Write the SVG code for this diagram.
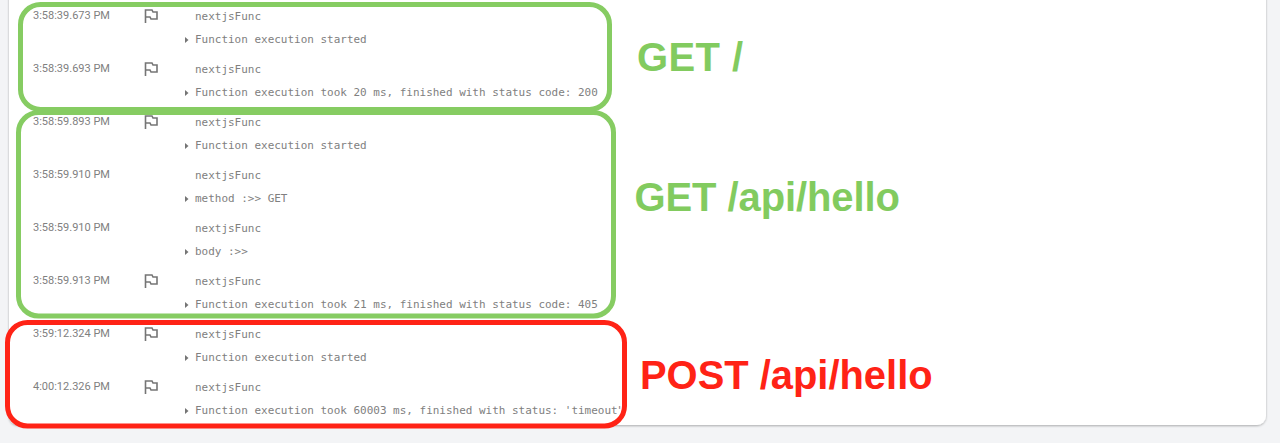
<svg xmlns="http://www.w3.org/2000/svg" width="1280" height="443" viewBox="0 0 1280 443">
<style>
.t{font:11px Roboto,"Liberation Sans",sans-serif;fill:#808080}
.m{font:10.98px "DejaVu Sans Mono","Liberation Mono",monospace;fill:#808080}
.g{fill:none;stroke:#86cc62;stroke-width:5}
.r{fill:none;stroke:#ff2316;stroke-width:5}
.lg{font:bold 40px "Liberation Sans",Arial,sans-serif;fill:#82cb5f}
.lr{font:bold 39.900px "Liberation Sans",Arial,sans-serif;fill:#ff2316}
.f{fill:none;stroke:#757575;stroke-width:1.6}
.a{fill:#757575}
</style>
<defs>
<filter id="s" x="-2%" y="-5%" width="104%" height="110%"><feDropShadow dx="0" dy="1" stdDeviation="1" flood-color="#000" flood-opacity="0.3"/></filter>
<g id="flag"><path class="f" d="M-5.500 7V-6H1L2-4H6V3H0L-1 1H-5.500"/></g>
<path id="tri" class="a" d="M0-3L3.500 0L0 3Z"/>
</defs>
<rect width="1280" height="443" fill="#f3f4f6"/>
<g id="panel"><path d="M9-10H1266V416a9 9 0 0 1-9 9H18a9 9 0 0 1-9-9Z" fill="#fff" filter="url(#s)"/></g>
<g id="box-get-root"><rect class="g" x="20.500" y="4.500" width="589" height="105" rx="20"/><text class="lg" x="637" y="71" textLength="106">GET /</text></g>
<g id="box-get-hello"><rect class="g" x="18.500" y="112.500" width="595" height="203.500" rx="20"/><text class="lg" x="634.500" y="211" textLength="265.500">GET /api/hello</text></g>
<g id="box-post-hello"><rect class="r" x="7.500" y="322.500" width="617" height="103.500" rx="20"/><text class="lr" x="640" y="389">POST /api/hello</text></g>
<g id="log">
<text class="t" x="33" y="19">3:58:39.673 PM</text><use href="#flag" x="151" y="16"/><text class="m" x="195" y="20">nextjsFunc</text><use href="#tri" x="185" y="40"/><text class="m" x="195" y="43">Function execution started</text>
<text class="t" x="33" y="72">3:58:39.693 PM</text><use href="#flag" x="151" y="69"/><text class="m" x="195" y="73">nextjsFunc</text><use href="#tri" x="185" y="93"/><text class="m" x="195" y="96">Function execution took 20 ms, finished with status code: 200</text>
<text class="t" x="33" y="125">3:58:59.893 PM</text><use href="#flag" x="151" y="122"/><text class="m" x="195" y="126">nextjsFunc</text><use href="#tri" x="185" y="146"/><text class="m" x="195" y="149">Function execution started</text>
<text class="t" x="33" y="178">3:58:59.910 PM</text><text class="m" x="195" y="179">nextjsFunc</text><use href="#tri" x="185" y="199"/><text class="m" x="195" y="202">method :&gt;&gt; GET</text>
<text class="t" x="33" y="231">3:58:59.910 PM</text><text class="m" x="195" y="232">nextjsFunc</text><use href="#tri" x="185" y="252"/><text class="m" x="195" y="255">body :&gt;&gt;</text>
<text class="t" x="33" y="284">3:58:59.913 PM</text><use href="#flag" x="151" y="281"/><text class="m" x="195" y="285">nextjsFunc</text><use href="#tri" x="185" y="305"/><text class="m" x="195" y="308">Function execution took 21 ms, finished with status code: 405</text>
<text class="t" x="33" y="337">3:59:12.324 PM</text><use href="#flag" x="151" y="334"/><text class="m" x="195" y="338">nextjsFunc</text><use href="#tri" x="185" y="358"/><text class="m" x="195" y="361">Function execution started</text>
<text class="t" x="33" y="390">4:00:12.326 PM</text><use href="#flag" x="151" y="387"/><text class="m" x="195" y="391">nextjsFunc</text><use href="#tri" x="185" y="411"/><text class="m" x="195" y="414">Function execution took 60003 ms, finished with status: 'timeout<tspan dx="-1.500">'</tspan></text>
</g>
</svg>
